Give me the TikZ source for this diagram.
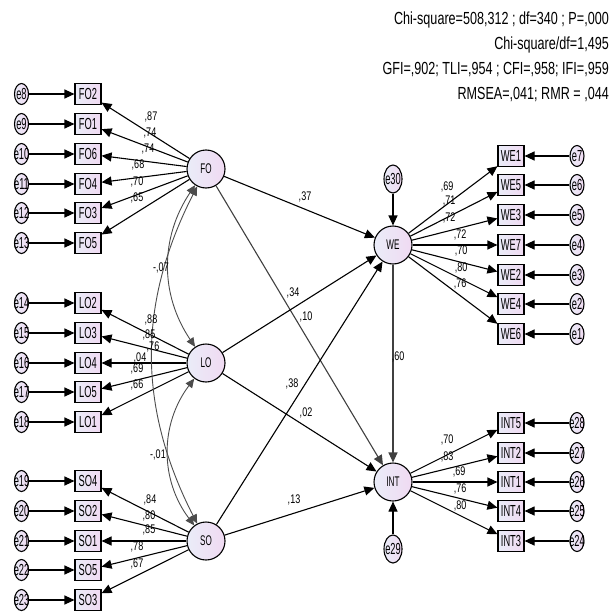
\documentclass[tikz,border=0pt]{standalone}
\usepackage{fontspec}
\setmainfont{Liberation Sans}[FakeStretch=0.58]
\newfontfamily\statfont{Liberation Sans}[FakeStretch=0.72]
\usetikzlibrary{arrows.meta,shapes.geometric}
\definecolor{fillleft}{RGB}{234,236,248}
\definecolor{fillright}{RGB}{240,218,242}

\begin{document}
\begin{tikzpicture}[x=1pt,y=1pt,
    latent/.style={circle,draw,line width=1.1pt,minimum size=38pt,inner sep=0pt,
        left color=fillleft,right color=fillright,font=\fontsize{14}{14}\selectfont},
    observed/.style={rectangle,draw,line width=1.1pt,minimum width=26pt,minimum height=21pt,
        inner sep=0pt,left color=fillleft,right color=fillright,font=\fontsize{16}{16}\selectfont},
    error/.style={ellipse,draw,line width=1.1pt,minimum width=14pt,minimum height=21pt,
        inner sep=0pt,left color=fillleft,right color=fillright,font=\fontsize{16}{16}\selectfont},
    errbig/.style={error,minimum width=18pt,minimum height=28pt},
    coef/.style={inner sep=0pt,font=\statfont\fontsize{12.5}{12.5}\selectfont},
    effect/.style={-{Triangle[length=10pt,width=9pt]},line width=1.1pt},
    covar/.style={{Triangle[length=9pt,width=8pt]}-{Triangle[length=9pt,width=8pt]},
        line width=0.9pt,draw=black!70}]
    \useasboundingbox (0,0) rectangle (611,-615);

    % fit indices
    \node[anchor=east,align=right,inner sep=0pt,font=\statfont\fontsize{17.5}{25}\selectfont]
        (fitIndex) at (609,-57) {Chi-square=508,312 ; df=340 ; P=,000\\Chi-square/df=1,495\\
        GFI=,902; TLI=,954 ; CFI=,958; IFI=,959\\RMSEA=,041; RMR = ,044};

    % latent variables
    \node[latent] (FO) at (206,-169) {FO};
    \node[latent] (LO) at (206,-363) {LO};
    \node[latent] (SO) at (206,-541) {SO};
    \node[latent] (WE) at (393,-245) {WE};
    \node[latent] (INT) at (393,-482) {INT};
    \node[errbig] (e30) at (393,-179) {\makebox[0pt]{e30}};
    \node[errbig] (e29) at (393,-549) {\makebox[0pt]{e29}};

    % left indicators
    \node[observed] (FO2) at (88,-94) {FO2};
    \node[observed] (FO1) at (88,-124) {FO1};
    \node[observed] (FO6) at (88,-154) {FO6};
    \node[observed] (FO4) at (88,-184) {FO4};
    \node[observed] (FO3) at (88,-213) {FO3};
    \node[observed] (FO5) at (88,-243) {FO5};
    \node[observed] (LO2) at (88,-303) {LO2};
    \node[observed] (LO3) at (88,-333) {LO3};
    \node[observed] (LO4) at (88,-363) {LO4};
    \node[observed] (LO5) at (88,-392) {LO5};
    \node[observed] (LO1) at (88,-422) {LO1};
    \node[observed] (SO4) at (88,-481) {SO4};
    \node[observed] (SO2) at (88,-511) {SO2};
    \node[observed] (SO1) at (88,-541) {SO1};
    \node[observed] (SO5) at (88,-570) {SO5};
    \node[observed] (SO3) at (88,-600) {SO3};

    \node[error] (e8) at (21.5,-94) {\makebox[0pt]{e8}};
    \node[error] (e9) at (21.5,-124) {\makebox[0pt]{e9}};
    \node[error] (e10) at (21.5,-154) {\makebox[0pt]{e10}};
    \node[error] (e11) at (21.5,-184) {\makebox[0pt]{e11}};
    \node[error] (e12) at (21.5,-213) {\makebox[0pt]{e12}};
    \node[error] (e13) at (21.5,-243) {\makebox[0pt]{e13}};
    \node[error] (e14) at (21.5,-303) {\makebox[0pt]{e14}};
    \node[error] (e15) at (21.5,-333) {\makebox[0pt]{e15}};
    \node[error] (e16) at (21.5,-363) {\makebox[0pt]{e16}};
    \node[error] (e17) at (21.5,-392) {\makebox[0pt]{e17}};
    \node[error] (e18) at (21.5,-422) {\makebox[0pt]{e18}};
    \node[error] (e19) at (21.5,-481) {\makebox[0pt]{e19}};
    \node[error] (e20) at (21.5,-511) {\makebox[0pt]{e20}};
    \node[error] (e21) at (21.5,-541) {\makebox[0pt]{e21}};
    \node[error] (e22) at (21.5,-570) {\makebox[0pt]{e22}};
    \node[error] (e23) at (21.5,-600) {\makebox[0pt]{e23}};

    % right indicators
    \node[observed] (WE1) at (511,-156) {WE1};
    \node[observed] (WE5) at (511,-185) {WE5};
    \node[observed] (WE3) at (511,-215) {WE3};
    \node[observed] (WE7) at (511,-245) {WE7};
    \node[observed] (WE2) at (511,-275) {WE2};
    \node[observed] (WE4) at (511,-304) {WE4};
    \node[observed] (WE6) at (511,-334) {WE6};
    \node[observed] (INT5) at (511,-423) {INT5};
    \node[observed] (INT2) at (511,-453) {INT2};
    \node[observed] (INT1) at (511,-482) {INT1};
    \node[observed] (INT4) at (511,-511) {INT4};
    \node[observed] (INT3) at (511,-541) {INT3};

    \node[error] (e7) at (577,-156) {\makebox[0pt]{e7}};
    \node[error] (e6) at (577,-185) {\makebox[0pt]{e6}};
    \node[error] (e5) at (577,-215) {\makebox[0pt]{e5}};
    \node[error] (e4) at (577,-245) {\makebox[0pt]{e4}};
    \node[error] (e3) at (577,-275) {\makebox[0pt]{e3}};
    \node[error] (e2) at (577,-304) {\makebox[0pt]{e2}};
    \node[error] (e1) at (577,-334) {\makebox[0pt]{e1}};
    \node[error] (e28) at (577,-423) {\makebox[0pt]{e28}};
    \node[error] (e27) at (577,-453) {\makebox[0pt]{e27}};
    \node[error] (e26) at (577,-482) {\makebox[0pt]{e26}};
    \node[error] (e25) at (577,-511) {\makebox[0pt]{e25}};
    \node[error] (e24) at (577,-541) {\makebox[0pt]{e24}};

\draw[effect] (e8) -- (FO2);
\draw[effect] (e9) -- (FO1);
\draw[effect] (e10) -- (FO6);
\draw[effect] (e11) -- (FO4);
\draw[effect] (e12) -- (FO3);
\draw[effect] (e13) -- (FO5);
\draw[effect] (e14) -- (LO2);
\draw[effect] (e15) -- (LO3);
\draw[effect] (e16) -- (LO4);
\draw[effect] (e17) -- (LO5);
\draw[effect] (e18) -- (LO1);
\draw[effect] (e19) -- (SO4);
\draw[effect] (e20) -- (SO2);
\draw[effect] (e21) -- (SO1);
\draw[effect] (e22) -- (SO5);
\draw[effect] (e23) -- (SO3);

\draw[effect] (FO) -- (FO2);
\draw[effect] (FO) -- (FO1);
\draw[effect] (FO) -- (FO6);
\draw[effect] (FO) -- (FO4);
\draw[effect] (FO) -- (FO3);
\draw[effect] (FO) -- (FO5);
\draw[effect] (LO) -- (LO2);
\draw[effect] (LO) -- (LO3);
\draw[effect] (LO) -- (LO4);
\draw[effect] (LO) -- (LO5);
\draw[effect] (LO) -- (LO1);
\draw[effect] (SO) -- (SO4);
\draw[effect] (SO) -- (SO2);
\draw[effect] (SO) -- (SO1);
\draw[effect] (SO) -- (SO5);
\draw[effect] (SO) -- (SO3);

\draw[effect] (WE) -- (WE1);
\draw[effect] (WE) -- (WE5);
\draw[effect] (WE) -- (WE3);
\draw[effect] (WE) -- (WE7);
\draw[effect] (WE) -- (WE2);
\draw[effect] (WE) -- (WE4);
\draw[effect] (WE) -- (WE6);
\draw[effect] (INT) -- (INT5);
\draw[effect] (INT) -- (INT2);
\draw[effect] (INT) -- (INT1);
\draw[effect] (INT) -- (INT4);
\draw[effect] (INT) -- (INT3);

\draw[effect] (e7) -- (WE1);
\draw[effect] (e6) -- (WE5);
\draw[effect] (e5) -- (WE3);
\draw[effect] (e4) -- (WE7);
\draw[effect] (e3) -- (WE2);
\draw[effect] (e2) -- (WE4);
\draw[effect] (e1) -- (WE6);
\draw[effect] (e28) -- (INT5);
\draw[effect] (e27) -- (INT2);
\draw[effect] (e26) -- (INT1);
\draw[effect] (e25) -- (INT4);
\draw[effect] (e24) -- (INT3);

% structural paths
\draw[effect] (FO) -- (WE);
\draw[effect,draw=black!75] (FO) -- (INT);
\draw[effect] (LO) -- (WE);
\draw[effect] (LO) -- (INT);
\draw[effect] (SO) -- (WE);
\draw[effect] (SO) -- (INT);
\draw[effect,draw=black!75] (WE) -- (INT);
\draw[effect] (e30) -- (WE);
\draw[effect] (e29) -- (INT);

% covariances
\draw[covar] (FO) to[bend right=34] (LO);
\draw[covar] (LO) to[bend right=37] (SO);
\draw[covar] (FO) to[bend right=27] (SO);

    % loadings
    \node[coef] (cFO2) at (151,-117) {,87};
    \node[coef] (cFO1) at (150,-133) {,74};
    \node[coef] (cFO6) at (148,-149) {,74};
    \node[coef] (cFO4) at (138,-165) {,68};
    \node[coef] (cFO3) at (137,-182) {,70};
    \node[coef] (cFO5) at (137,-198) {,65};
    \node[coef] (cLO2) at (151,-320) {,88};
    \node[coef] (cLO3) at (149,-335) {,85};
    \node[coef] (cLO4) at (153,-347) {,76};
    \node[coef] (cLO5) at (137,-369) {,69};
    \node[coef] (cLO1) at (137,-385) {,66};
    \node[coef] (cSO4) at (150,-500) {,84};
    \node[coef] (cSO2) at (149,-516) {,80};
    \node[coef] (cSO1) at (149,-530) {,85};
    \node[coef] (cSO5) at (137,-547) {,78};
    \node[coef] (cSO3) at (137,-564) {,67};
    \node[coef] (cWE1) at (447,-187) {,69};
    \node[coef] (cWE5) at (449,-201) {,71};
    \node[coef] (cWE3) at (449,-218) {,72};
    \node[coef] (cWE7) at (460,-235) {,72};
    \node[coef] (cWE2) at (461,-251) {,70};
    \node[coef] (cWE4) at (461,-268) {,80};
    \node[coef] (cWE6) at (460,-284) {,76};
    \node[coef] (cINT5) at (447,-440) {,70};
    \node[coef] (cINT2) at (447,-457) {,83};
    \node[coef] (cINT1) at (459,-472) {,69};
    \node[coef] (cINT4) at (460,-489) {,76};
    \node[coef] (cINT3) at (460,-506) {,80};

    % path and covariance estimates
    \node[coef] (cFOWE) at (305,-197) {,37};
    \node[coef] (cLOWE) at (293,-293) {,34};
    \node[coef] (cFOINT) at (306,-317) {,10};
    \node[coef] (cSOWE) at (292,-384) {,38};
    \node[coef] (cLOINT) at (306,-413) {,02};
    \node[coef] (cSOINT) at (294,-500) {,13};
    \node[coef] (cWEINT) at (398,-357) {,60};
    \node[coef] (cFOLO) at (161,-268) {-,07};
    \node[coef] (cFOSO) at (140,-358) {,04};
    \node[coef] (cLOSO) at (158,-455) {-,01};

\end{tikzpicture}
\end{document}
